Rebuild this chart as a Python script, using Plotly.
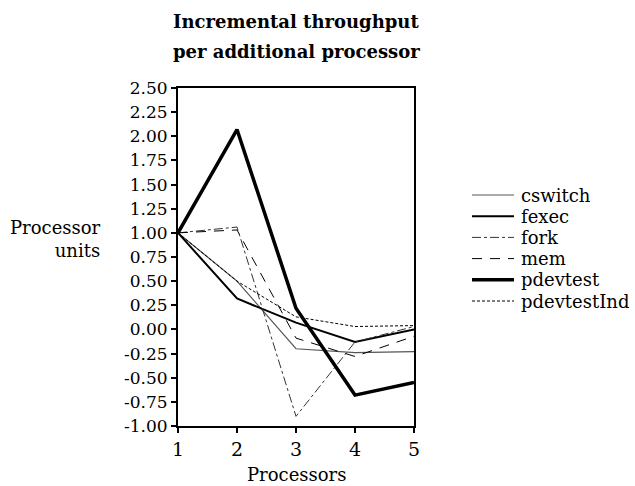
import plotly.graph_objects as go

processors = [1, 2, 3, 4, 5]
cswitch = [1.00, 0.50, -0.20, -0.24, -0.23]
fexec = [1.00, 0.32, 0.07, -0.13, 0.00]
fork = [1.00, 1.06, -0.90, -0.13, 0.03]
mem = [1.00, 1.03, -0.09, -0.28, -0.07]
pdevtest = [1.00, 2.07, 0.22, -0.68, -0.55]
pdevtestInd = [1.00, 0.50, 0.13, 0.03, 0.04]

ytick_vals = [2.5, 2.25, 2.0, 1.75, 1.5, 1.25, 1.0, 0.75, 0.5, 0.25, 0.0,
              -0.25, -0.5, -0.75, -1.0]
ytick_text = ["2.50", "2.25", "2.00", "1.75", "1.50", "1.25", "1.00", "0.75",
              "0.50", "0.25", "0.00", "-0.25", "-0.50", "-0.75", "-1.00"]
xtick_vals = [1, 2, 3, 4, 5]
xtick_text = ["1", "2", "3", "4", "5"]

FONT = "DejaVu Serif"
W, H = 635, 486
L, R, T, B = 178, 221, 88, 60

series = [
    ("cswitch", cswitch, dict(color="#555555", width=1.2, dash="solid")),
    ("fexec", fexec, dict(color="black", width=2, dash="solid")),
    ("fork", fork, dict(color="#333333", width=1, dash="dashdot")),
    ("mem", mem, dict(color="black", width=1, dash="10px,8px")),
    ("pdevtest", pdevtest, dict(color="black", width=3.5, dash="solid")),
    ("pdevtestInd", pdevtestInd, dict(color="black", width=1, dash="3px,2px")),
]

fig = go.Figure()
for name, vals, line in series:
    fig.add_trace(go.Scatter(x=processors, y=vals, mode="lines", name=name,
                             line=line, showlegend=False))

def px_x(px):
    return (px - L) / (W - L - R)

def px_y(py):
    return (H - B - py) / (H - T - B)

leg_x0, leg_x1, leg_text_x = 472, 514, 519
leg_y0, leg_dy = 195, 21.2
for i, (name, vals, line) in enumerate(series):
    yy = px_y(leg_y0 + i * leg_dy)
    fig.add_shape(type="line", xref="paper", yref="paper",
                  x0=px_x(leg_x0), x1=px_x(leg_x1), y0=yy, y1=yy,
                  line=line)
    fig.add_annotation(text=name, xref="paper", yref="paper",
                       x=px_x(leg_text_x), y=yy, xanchor="left",
                       yanchor="middle", showarrow=False,
                       font=dict(family=FONT, size=18, color="black"))

fig.update_layout(
    width=W, height=H,
    margin=dict(l=L, r=R, t=T, b=B),
    paper_bgcolor="white", plot_bgcolor="white",
    font=dict(family=FONT, size=18, color="black"),
    showlegend=False,
)
for txt, yc in [("<b>Incremental throughput</b>", 21),
                ("<b>per additional processor</b>", 52)]:
    fig.add_annotation(text=txt, xref="paper", yref="paper",
                       x=px_x(296), y=px_y(yc), xanchor="center",
                       yanchor="middle", showarrow=False,
                       font=dict(family=FONT, size=18, color="black"))

fig.update_xaxes(range=[1, 5], tickvals=xtick_vals, ticktext=xtick_text,
                 showgrid=False, zeroline=False, showline=True, linecolor="black",
                 linewidth=2, mirror=True, ticks="outside", ticklen=5,
                 tickwidth=1.5, tickcolor="black",
                 tickfont=dict(family=FONT, size=19))
fig.add_annotation(text="Processors", xref="paper", yref="paper",
                   x=px_x(296), y=px_y(474), xanchor="center",
                   yanchor="middle", showarrow=False,
                   font=dict(family=FONT, size=18, color="black"))
fig.update_yaxes(range=[-1.0, 2.5], tickvals=ytick_vals, ticktext=ytick_text,
                 showgrid=False, zeroline=False, showline=True, linecolor="black",
                 linewidth=2, mirror=True, ticks="outside", ticklen=5,
                 tickwidth=1.5, tickcolor="black",
                 tickfont=dict(family=FONT, size=17))
fig.add_annotation(text="Processor<br>units", xref="paper", yref="paper",
                   x=px_x(103), y=px_y(239), xanchor="right", yanchor="middle",
                   align="right", showarrow=False,
                   font=dict(family=FONT, size=18, color="black"))

fig.write_html("out.html")
